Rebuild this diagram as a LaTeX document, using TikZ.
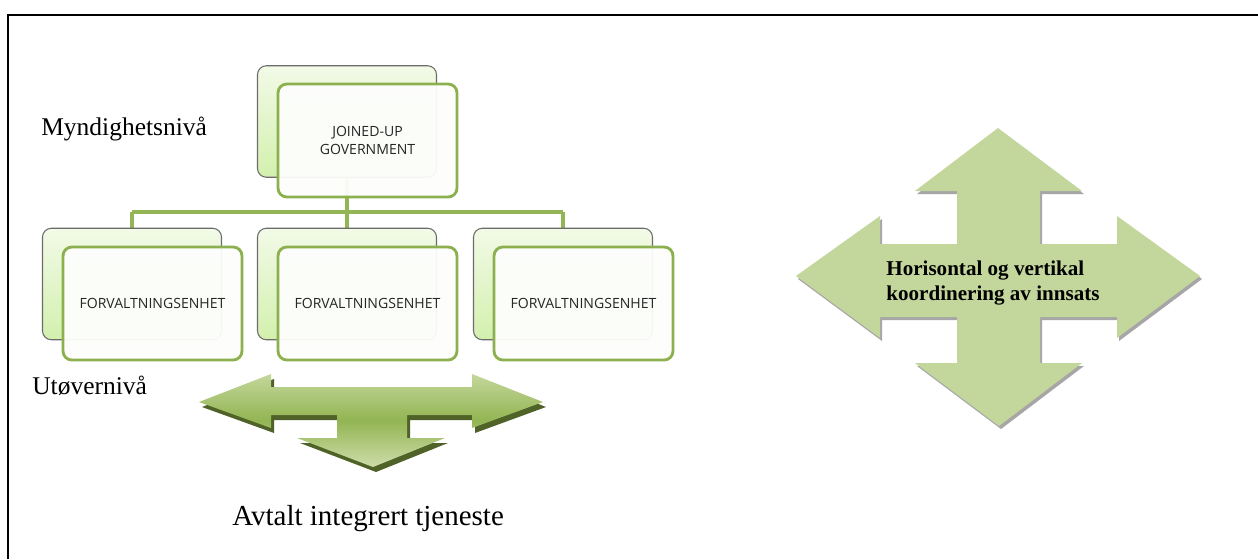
\documentclass[tikz,border=0pt]{standalone}
\usepackage{fontspec}
\setmainfont{Liberation Serif}
\newfontfamily\boxfont{Open Sans}
\usetikzlibrary{backgrounds}
\definecolor{olivegreen}{HTML}{94B555}
\definecolor{frontline}{HTML}{8DB04F}
\definecolor{backtop}{HTML}{F2FAE7}
\definecolor{backbot}{HTML}{D3F0AE}
\definecolor{arrowlight}{HTML}{C4D79B}
\definecolor{arrowdark}{HTML}{93B553}
\definecolor{arrowshadow}{HTML}{4F6228}
\definecolor{crossfill}{HTML}{C3D69B}
\definecolor{boxtext}{HTML}{262626}
\tikzset{
  backbox/.style={draw=gray!85!black, line width=0.6pt, rounded corners=5pt,
    top color=backtop, bottom color=backbot, minimum width=3.58cm, minimum height=2.23cm, inner sep=0pt},
  frontbox/.style={draw=frontline, line width=1.6pt, rounded corners=5pt,
    fill=white!98!olivegreen, fill opacity=0.95, text opacity=1, text=boxtext, minimum width=3.58cm, minimum height=2.26cm,
    inner sep=0pt, align=center, font=\boxfont\fontsize{8}{10.2}\selectfont},
  conn/.style={draw=olivegreen, line width=2.8pt},
  lbl/.style={inner sep=0pt, font=\fontsize{14.5}{17}\selectfont},
}
\begin{document}
\begin{tikzpicture}[x=0.02cm, y=-0.02cm]
\useasboundingbox (0,0) rectangle (1258,559);
\draw[line width=1.2pt] (8,559) -- (8,15) -- (1258,15);

% org chart boxes
\node[backbox] (topback) at (347,121.5) {};
\node[frontbox] (topfront) at (367.5,140.5) {JOINED-UP\\GOVERNMENT};
\node[backbox] (leftback) at (132,284) {};
\node[frontbox] (leftfront) at (152.5,303.5) {FORVALTNINGSENHET};
\node[backbox] (midback) at (347,284) {};
\node[frontbox] (midfront) at (367.5,303.5) {FORVALTNINGSENHET};
\node[backbox] (rightback) at (563,284) {};
\node[frontbox] (rightfront) at (583.5,303.5) {FORVALTNINGSENHET};

\coordinate (bus) at (0,212);
\begin{pgfonlayer}{background}
\fill[white] (0,0) rectangle (1258,559);
\draw[conn] (topback.south) -- (topback.south |- bus);
\draw[conn] (leftback.north |- bus) -- (rightback.north |- bus);
\draw[conn] (leftback.north |- bus) -- (leftback.north);
\draw[conn] (midback.north |- bus) -- (midback.north);
\draw[conn] (rightback.north |- bus) -- (rightback.north);
\end{pgfonlayer}

% labels
\node[lbl, anchor=base west] (myn) at (41,135) {Myndighetsnivå};
\node[lbl, anchor=base west] (utov) at (32,394) {Utøvernivå};
\node[inner sep=0pt, anchor=base west, font=\fontsize{16.5}{19}\selectfont] (avtalt) at (232,525) {Avtalt integrert tjeneste};

% three-way arrow (shadow + body)
\fill[arrowshadow] [shift={(3,5)}] (199,402) -- (271,374) -- (271,387) -- (472,387) -- (472,374) -- (543,402)
  -- (472,428) -- (472,415) -- (407,415) -- (407,438) -- (445,438) -- (373,467) -- (297,438)
  -- (337,438) -- (337,415) -- (271,415) -- (271,428) -- cycle;
\shade[top color=arrowlight, bottom color=arrowlight!85!white, middle color=arrowdark]
  (199,402) -- (271,374) -- (271,387) -- (472,387) -- (472,374) -- (543,402)
  -- (472,428) -- (472,415) -- (407,415) -- (407,438) -- (445,438) -- (373,467) -- (297,438)
  -- (337,438) -- (337,415) -- (271,415) -- (271,428) -- cycle;

% four-way arrow (shadow + body)
\fill[gray!70] [shift={(2,3)}] (998,128) -- (1082,191) -- (1040,191) -- (1040,244) -- (1117,244) -- (1117,216)
  -- (1200,276) -- (1117,338) -- (1117,317) -- (1040,317) -- (1040,363) -- (1082,363)
  -- (999,426) -- (915,363) -- (957,363) -- (957,317) -- (880,317) -- (880,338)
  -- (796,276) -- (880,216) -- (880,244) -- (957,244) -- (957,191) -- (915,191) -- cycle;
\fill[crossfill] (998,128) -- (1082,191) -- (1040,191) -- (1040,244) -- (1117,244) -- (1117,216)
  -- (1200,276) -- (1117,338) -- (1117,317) -- (1040,317) -- (1040,363) -- (1082,363)
  -- (999,426) -- (915,363) -- (957,363) -- (957,317) -- (880,317) -- (880,338)
  -- (796,276) -- (880,216) -- (880,244) -- (957,244) -- (957,191) -- (915,191) -- cycle;
\node[inner sep=0pt, anchor=base west, align=left, font=\bfseries\fontsize{12}{14.2}\selectfont] (coord) at (886,300)
  {Horisontal og vertikal\\koordinering av innsats};
\end{tikzpicture}
\end{document}
